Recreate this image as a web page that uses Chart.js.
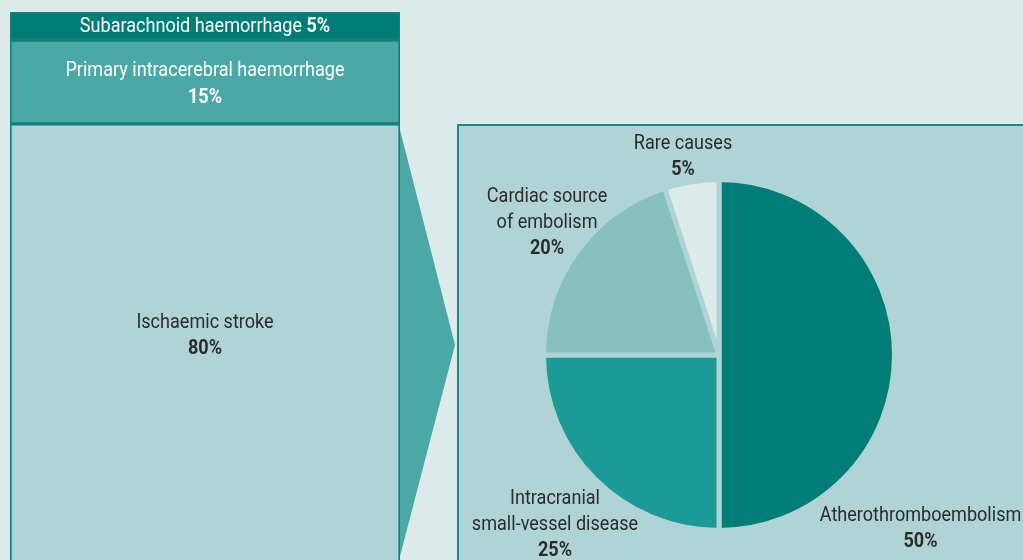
<!DOCTYPE html>
<html>
<head>
<meta charset="utf-8">
<script src="https://cdn.jsdelivr.net/npm/chart.js@4"></script>
<style>
  html, body { margin: 0; padding: 0; background: #dceaea; overflow: hidden; }
  #wrap { position: relative; width: 1023px; height: 560px; }
  #panel { position: absolute; left: 457px; top: 124px; width: 570px; height: 450px;
           background: #b0d4d5; border: 2px solid #1b8a86; box-sizing: border-box; }
  #barBox { position: absolute; left: 0; top: 0; width: 457px; height: 560px; }
  #pieBox { position: absolute; left: 459px; top: 126px; width: 564px; height: 434px; }
</style>
</head>
<body>
<div id="wrap">
  <div id="panel"></div>
  <div id="barBox"><canvas id="strokeBar"></canvas></div>
  <div id="pieBox"><canvas id="causePie"></canvas></div>
</div>
<script>
// stroke types (left column)
const strokeTypes = ['Subarachnoid haemorrhage', 'Primary intracerebral haemorrhage', 'Ischaemic stroke'];
const strokeShares = [5, 15, 80];
const strokeColors = ['#007d77', '#4aa8a6', '#b0d4d5'];

// causes of ischaemic stroke (pie)
const causeLabels = [['Atherothromboembolism'], ['Intracranial', 'small-vessel disease'], ['Cardiac source', 'of embolism'], ['Rare causes']];
const causeShares = [50, 25, 20, 5];
const causeColors = ['#007d77', '#1b9a97', '#86c0bf', '#dceaea'];

const FONT = "Roboto, 'Liberation Sans', sans-serif";
const SX = 0.86; // horizontal squeeze to get a condensed look
const TEXT_DARK = '#2b2b2b';
const TEXT_SIZE = 21;
const Y_NUDGE = 2;

function setFont(ctx, size, bold) {
    ctx.font = (bold ? 'bold ' : '') + size + 'px ' + FONT;
}

// draw text squeezed horizontally, left aligned at x
function squeezed(ctx, text, x, y) {
    ctx.save();
    ctx.translate(x, y + Y_NUDGE);
    ctx.scale(SX, 1);
    ctx.textAlign = 'left';
    ctx.fillText(text, 0, 0);
    ctx.restore();
}

function textW(ctx, text) {
    return ctx.measureText(text).width * SX;
}

// "label pct" on one line, pct in bold, centred on x
function mixedLine(ctx, text, pct, x, y, size) {
    setFont(ctx, size, false);
    const w1 = textW(ctx, text + ' ');
    setFont(ctx, size, true);
    const w2 = textW(ctx, pct);
    const start = x - (w1 + w2) / 2;
    setFont(ctx, size, false);
    squeezed(ctx, text + ' ', start, y);
    setFont(ctx, size, true);
    squeezed(ctx, pct, start + w1, y);
}

function blockLines(ctx, lines, pct, x, cy, size, lh) {
    const n = lines.length + 1;
    let y = cy - (n - 1) * lh / 2;
    setFont(ctx, size, false);
    lines.forEach(l => { squeezed(ctx, l, x - textW(ctx, l) / 2, y); y += lh; });
    setFont(ctx, size, true);
    squeezed(ctx, pct, x - textW(ctx, pct) / 2, y);
}

// arrow shape + labels for the column
const columnPlugin = {
    id: 'columnDeco',
    beforeDatasetsDraw(chart) {
        const ctx = chart.ctx;
        const el = chart.getDatasetMeta(2).data[0];
        const top = Math.min(el.y, el.base);
        const right = el.x + el.width / 2;
        const bottom = chart.chartArea.bottom;
        ctx.save();
        ctx.fillStyle = '#4aa8a6';
        ctx.beginPath();
        ctx.moveTo(right - 1, top + 2);
        ctx.lineTo(right + 55, (top + bottom) / 2 + 3);
        ctx.lineTo(right - 1, bottom);
        ctx.closePath();
        ctx.fill();
        ctx.restore();
    },
    afterDatasetsDraw(chart) {
        const ctx = chart.ctx;
        const area = chart.chartArea;
        ctx.save();
        ctx.textBaseline = 'middle';
        chart.data.datasets.forEach((ds, i) => {
            const el = chart.getDatasetMeta(i).data[0];
            const top = Math.min(el.y, el.base);
            const bot = Math.min(Math.max(el.y, el.base), area.bottom);
            const cx = el.x;
            const pct = strokeShares[i] + '%';
            ctx.fillStyle = i < 2 ? '#ffffff' : TEXT_DARK;
            if (i === 0) {
                mixedLine(ctx, strokeTypes[i], pct, cx, (top + bot) / 2 - 1, TEXT_SIZE);
            } else if (i === 1) {
                blockLines(ctx, [strokeTypes[i]], pct, cx, (top + bot) / 2, TEXT_SIZE, 27);
            } else {
                blockLines(ctx, [strokeTypes[i]], pct, cx, (top + bot) / 2 - 8, TEXT_SIZE, 26);
            }
        });
        ctx.restore();
    }
};

new Chart(document.getElementById('strokeBar'), {
    type: 'bar',
    data: {
        labels: ['Stroke'],
        datasets: strokeTypes.map((t, i) => ({
            label: t,
            data: [strokeShares[i]],
            backgroundColor: strokeColors[i],
            borderColor: '#0f817b',
            borderWidth: 2,
            borderSkipped: false,
            barPercentage: 1,
            categoryPercentage: 1
        }))
    },
    options: {
        responsive: true,
        maintainAspectRatio: false,
        animation: false,
        layout: { padding: { left: 10, top: 12, right: 57, bottom: 0 } },
        plugins: { legend: { display: false }, tooltip: { enabled: false } },
        scales: {
            x: { display: false, stacked: true },
            y: { display: false, stacked: true, reverse: true, min: 0, max: 97.9 }
        }
    },
    plugins: [columnPlugin]
});

// label placement around the pie: [dx, dy] in units of radius from centre
const pieLabelPos = [[1.165, 0.99], [-0.948, 0.97], [-0.994, -0.775], [-0.208, -1.156]];

const pieLabelPlugin = {
    id: 'pieLabels',
    afterDatasetsDraw(chart) {
        const ctx = chart.ctx;
        const arcs = chart.getDatasetMeta(0).data;
        const cx = arcs[0].x, cy = arcs[0].y;
        const r = 173;
        ctx.save();
        ctx.fillStyle = TEXT_DARK;
        ctx.textBaseline = 'middle';
        causeLabels.forEach((lines, i) => {
            const p = pieLabelPos[i];
            blockLines(ctx, lines, causeShares[i] + '%', cx + p[0] * r, cy + p[1] * r, TEXT_SIZE, 26);
        });
        ctx.restore();
    }
};

new Chart(document.getElementById('causePie'), {
    type: 'pie',
    data: {
        labels: causeLabels.map(l => l.join(' ')),
        datasets: [{
            data: causeShares,
            backgroundColor: causeColors,
            borderColor: '#b0d4d5',
            borderWidth: 5
        }]
    },
    options: {
        responsive: true,
        maintainAspectRatio: false,
        animation: false,
        layout: { padding: { left: 82, right: 126, top: 51, bottom: 27 } },
        plugins: { legend: { display: false }, tooltip: { enabled: false } }
    },
    plugins: [pieLabelPlugin]
});
</script>
</body>
</html>
